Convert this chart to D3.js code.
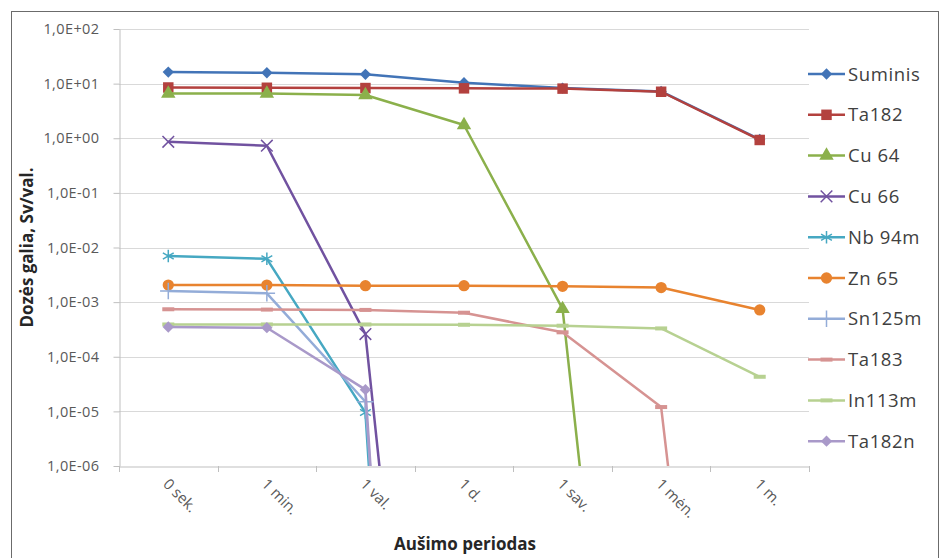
<!DOCTYPE html>
<html>
<head>
<meta charset="utf-8">
<script src="https://cdn.jsdelivr.net/npm/d3@7"></script>
<style>
body { margin: 0; background: #fff; }
text { font-family: "Open Sans", sans-serif; }
</style>
</head>
<body>
<svg id="chart" width="942" height="558"></svg>
<script>
// category axis
let periods = ["0 sek.", "1 min.", "1 val.", "1 d.", "1 sav.", "1 mėn.", "1 m."];

// dose rate values, Sv/val. (tiny values fall below the axis)
let suminis = [16.3, 15.8, 14.8, 10.4, 8.3, 7.2, 0.95];
let ta182 = [8.5, 8.4, 8.3, 8.2, 8.1, 7.1, 0.93];
let cu64 = [6.6, 6.6, 6.2, 1.75, 7.5e-4, 2.5e-20, 1e-38];
let cu66 = [0.86, 0.73, 2.6e-4, 2.5e-21, 1e-40, 1e-60, 1e-80];
let nb94m = [7.0e-3, 6.2e-3, 9.5e-6, 1e-33, 1e-60, 1e-80, 1e-90];
let zn65 = [2.05e-3, 2.05e-3, 2.0e-3, 2.0e-3, 1.95e-3, 1.85e-3, 7.2e-4];
let sn125m = [1.6e-3, 1.45e-3, 1.5e-5, 1e-30, 1e-50, 1e-70, 1e-90];
let ta183 = [7.4e-4, 7.3e-4, 7.2e-4, 6.4e-4, 2.8e-4, 1.2e-5, 5e-21];
let in113m = [3.9e-4, 3.9e-4, 3.9e-4, 3.85e-4, 3.7e-4, 3.3e-4, 4.3e-5];
let ta182n = [3.5e-4, 3.4e-4, 2.5e-5, 1e-32, 1e-50, 1e-70, 1e-90];

let seriesNames = ["Suminis", "Ta182", "Cu 64", "Cu 66", "Nb 94m", "Zn 65", "Sn125m", "Ta183", "In113m", "Ta182n"];
let seriesValues = [suminis, ta182, cu64, cu66, nb94m, zn65, sn125m, ta183, in113m, ta182n];
let seriesColors = ["#4274b7", "#b3413e", "#8bb04b", "#7152a0", "#46a8c2", "#e8832f", "#93acd8", "#d69392", "#b7d191", "#a999c9"];
let seriesMarkers = ["diamond", "square", "triangle", "x", "asterisk", "circle", "plus", "dash", "dash", "diamond"];

let yTicks = [1e2, 1e1, 1e0, 1e-1, 1e-2, 1e-3, 1e-4, 1e-5, 1e-6];
let yTickLabels = ["1,0E+02", "1,0E+01", "1,0E+00", "1,0E-01", "1,0E-02", "1,0E-03", "1,0E-04", "1,0E-05", "1,0E-06"];

let svg = d3.select("#chart");

// outer frame
svg.append("rect")
    .attr("x", 11.5).attr("y", 11.5)
    .attr("width", 927).attr("height", 560)
    .attr("fill", "none").attr("stroke", "#6b6b6b").attr("stroke-width", 1);

let plotLeft = 119, plotRight = 809, plotTop = 29, plotBottom = 466;

let x = d3.scaleBand().domain(periods).range([plotLeft, plotRight]);
let y = d3.scaleLog().domain([1e-6, 1e2]).range([plotBottom, plotTop]);

// gridlines
svg.append("g")
    .selectAll("line")
    .data(yTicks.slice(0, -1))
    .join("line")
    .attr("x1", plotLeft).attr("x2", plotRight)
    .attr("y1", d => Math.round(y(d)) + 0.5).attr("y2", d => Math.round(y(d)) + 0.5)
    .attr("stroke", "#d9d9d9").attr("stroke-width", 1);

// y axis
let yAxis = svg.append("g")
    .attr("transform", `translate(${plotLeft + 0.5},0)`)
    .call(d3.axisLeft(y).tickValues(yTicks).tickFormat((d, i) => yTickLabels[i]).tickSizeInner(6).tickSizeOuter(0).tickPadding(14));
yAxis.select(".domain").attr("stroke", "#bfbfbf");
yAxis.selectAll(".tick line").attr("stroke", "#bfbfbf");
yAxis.selectAll(".tick text")
    .attr("fill", "#595959")
    .style("font-size", "14.5px").style("letter-spacing", "0.4px")
    .style("font-family", "'Open Sans', sans-serif");

// x axis
let xAxis = svg.append("g")
    .attr("transform", `translate(0,${plotBottom + 0.5})`)
    .call(d3.axisBottom(x).tickSize(0).tickFormat(""));
xAxis.select(".domain").attr("stroke", "#bfbfbf");
svg.append("g")
    .selectAll("line")
    .data(d3.range(periods.length + 1))
    .join("line")
    .attr("x1", i => Math.round(plotLeft + i * x.step()) + 0.5)
    .attr("x2", i => Math.round(plotLeft + i * x.step()) + 0.5)
    .attr("y1", plotBottom).attr("y2", plotBottom + 6)
    .attr("stroke", "#bfbfbf");

svg.append("g")
    .selectAll("text")
    .data(periods)
    .join("text")
    .attr("transform", d => `translate(${x(d) + x.bandwidth() / 2 - 6},${plotBottom + 19}) rotate(45)`)
    .attr("fill", "#595959")
    .style("font-size", "15px")
    .text(d => d);

// axis titles
svg.append("text")
    .attr("transform", `translate(33,${(plotTop + plotBottom) / 2}) rotate(-90)`)
    .attr("text-anchor", "middle")
    .attr("fill", "#262626")
    .style("font-size", "17px").style("font-weight", "bold")
    .text("Dozės galia, Sv/val.");

svg.append("text")
    .attr("x", 465).attr("y", 550)
    .attr("text-anchor", "middle")
    .attr("fill", "#262626")
    .style("font-size", "17px").style("font-weight", "bold")
    .text("Aušimo periodas");

// markers
function drawMarker(g, type, color) {
    if (type == "diamond") {
        g.append("path").attr("d", d3.symbol(d3.symbolSquare, 64)()).attr("transform", "rotate(45)").attr("fill", color);
    } else if (type == "square") {
        g.append("path").attr("d", d3.symbol(d3.symbolSquare, 110)()).attr("fill", color);
    } else if (type == "triangle") {
        g.append("path").attr("d", d3.symbol(d3.symbolTriangle, 90)()).attr("fill", color);
    } else if (type == "circle") {
        g.append("path").attr("d", d3.symbol(d3.symbolCircle, 100)()).attr("fill", color);
    } else if (type == "x") {
        g.append("path").attr("d", d3.symbol(d3.symbolTimes, 90)()).attr("fill", "none").attr("stroke", color).attr("stroke-width", 1.5);
    } else if (type == "asterisk") {
        g.append("path").attr("d", d3.symbol(d3.symbolAsterisk, 110)()).attr("fill", "none").attr("stroke", color).attr("stroke-width", 1.5);
    } else if (type == "plus") {
        g.append("path").attr("d", d3.symbol(d3.symbolPlus, 90)()).attr("fill", "none").attr("stroke", color).attr("stroke-width", 1.5);
    } else if (type == "dash") {
        g.append("rect").attr("x", -6).attr("y", -2).attr("width", 12).attr("height", 4).attr("fill", color);
    }
}

svg.append("clipPath").attr("id", "plot")
    .append("rect").attr("x", plotLeft).attr("y", plotTop - 10).attr("width", plotRight - plotLeft + 10).attr("height", plotBottom - plotTop + 10);

let line = d3.line()
    .x((d, i) => x(periods[i]) + x.bandwidth() / 2)
    .y(d => y(d));

let plot = svg.append("g").attr("clip-path", "url(#plot)");

seriesValues.forEach((vals, s) => {
    let g = plot.append("g");
    g.append("path")
        .datum(vals)
        .attr("d", line)
        .attr("fill", "none")
        .attr("stroke", seriesColors[s])
        .attr("stroke-width", 2.5)
        .attr("stroke-linejoin", "round");
    vals.forEach((v, i) => {
        if (v >= 1e-6) {
            let m = g.append("g").attr("transform", `translate(${x(periods[i]) + x.bandwidth() / 2},${y(v)})`);
            drawMarker(m, seriesMarkers[s], seriesColors[s]);
        }
    });
});

// legend
let legend = svg.append("g");
seriesNames.forEach((name, s) => {
    let ly = 74 + s * 40.8;
    let lg = legend.append("g").attr("transform", `translate(808,${ly})`);
    lg.append("line").attr("x1", 0).attr("x2", 37).attr("y1", 0).attr("y2", 0)
        .attr("stroke", seriesColors[s]).attr("stroke-width", 2.5);
    let m = lg.append("g").attr("transform", "translate(18.5,0)");
    drawMarker(m, seriesMarkers[s], seriesColors[s]);
    lg.append("text")
        .attr("x", 40).attr("y", 6.5)
        .attr("fill", "#404040")
        .style("font-size", "18.5px").style("letter-spacing", "0.6px")
        .text(name);
});
</script>
</body>
</html>
